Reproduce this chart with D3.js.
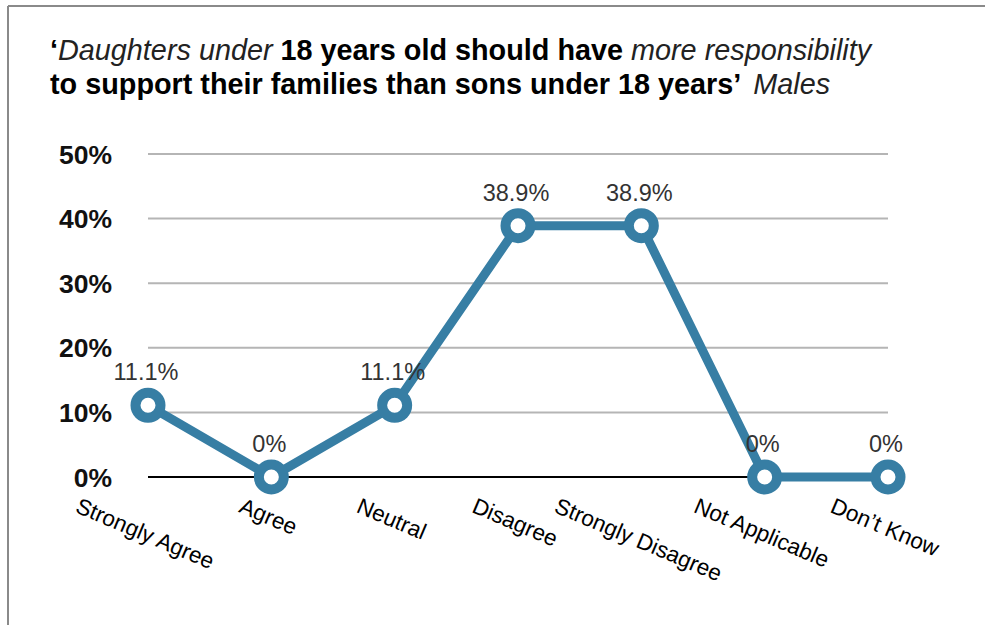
<!DOCTYPE html>
<html>
<head>
<meta charset="utf-8">
<script src="https://cdn.jsdelivr.net/npm/d3@7/dist/d3.min.js"></script>
<style>
  html, body { margin: 0; padding: 0; background: #fff; }
  svg { display: block; }
  text { font-family: "Liberation Sans", Arial, Helvetica, sans-serif; }
</style>
</head>
<body>
<svg id="chart" width="985" height="625"></svg>
<script>
// ---- data ----
const categories = ["Strongly Agree", "Agree", "Neutral", "Disagree", "Strongly Disagree", "Not Applicable", "Don\u2019t Know"];
const values = [11.1, 0, 11.1, 38.9, 38.9, 0, 0];
const valueLabels = ["11.1%", "0%", "11.1%", "38.9%", "38.9%", "0%", "0%"];
const yTicks = [0, 10, 20, 30, 40, 50];
const yTickLabels = ["0%", "10%", "20%", "30%", "40%", "50%"];
const titleLine1 = [
  {t: "\u2018", italic: false},
  {t: "Daughters under", italic: true},
  {t: " 18 years old should have ", italic: false},
  {t: "more responsibility", italic: true}
];
const titleLine2 = [
  {t: "to support their families than sons under 18 years\u2019", italic: false},
  {t: "Males", italic: true, gap: 12}
];

// ---- layout ----
const svg = d3.select("#chart");
const color = "#377ea4";

// frame
svg.append("line").attr("x1", 8).attr("x2", 985).attr("y1", 6).attr("y2", 6)
  .attr("stroke", "#8a8a8a").attr("stroke-width", 2);
svg.append("line").attr("x1", 8).attr("x2", 8).attr("y1", 6).attr("y2", 625)
  .attr("stroke", "#8a8a8a").attr("stroke-width", 2);

const x = d3.scalePoint().domain(categories).range([148, 888]).padding(0);
const y = d3.scaleLinear().domain([0, 50]).range([477, 154]);

// title
function titleLine(parts, yy) {
  const t = svg.append("text").attr("x", 50).attr("y", yy).attr("font-size", 28.8);
  parts.forEach(p => {
    const s = t.append("tspan").text(p.t)
      .attr("font-style", p.italic ? "italic" : "normal")
      .attr("font-weight", p.italic ? 400 : 700)
      .attr("fill", p.italic ? "#222" : "#000");
    if (p.gap) s.attr("dx", p.gap);
  });
  return t;
}
titleLine(titleLine1, 60);
titleLine(titleLine2, 94);

// gridlines
const grid = svg.append("g");
grid.selectAll("line").data(yTicks).join("line")
  .attr("x1", 148).attr("x2", 888)
  .attr("y1", d => y(d)).attr("y2", d => y(d))
  .attr("stroke", d => d === 0 ? "#000" : "#b5b5b5")
  .attr("stroke-width", 2);

// y axis labels
svg.append("g").selectAll("text").data(yTicks).join("text")
  .attr("x", 112).attr("y", d => y(d) + 9.5)
  .attr("text-anchor", "end")
  .attr("font-size", 26.5).attr("font-weight", 700)
  .attr("fill", "#111")
  .text((d, i) => yTickLabels[i]);

// line
const lineGen = d3.line().x((d, i) => x(categories[i])).y(d => y(d));
svg.append("path").datum(values)
  .attr("d", lineGen)
  .attr("fill", "none").attr("stroke", color)
  .attr("stroke-width", 9).attr("stroke-linejoin", "round");

// markers
svg.append("g").selectAll("circle").data(values).join("circle")
  .attr("cx", (d, i) => x(categories[i])).attr("cy", d => y(d))
  .attr("r", 12.5)
  .attr("fill", "#fff").attr("stroke", color).attr("stroke-width", 10);

// value labels
svg.append("g").selectAll("text").data(values).join("text")
  .attr("x", (d, i) => x(categories[i]) - 2)
  .attr("y", d => y(d) - 25)
  .attr("text-anchor", "middle")
  .attr("font-size", 23.5)
  .attr("fill", "#333")
  .text((d, i) => valueLabels[i]);

// category labels (rotated, top aligned, centered on tick)
const angle = 23;
const rad = angle * Math.PI / 180;
const fs = 22.5;
const catG = svg.append("g");
categories.forEach(c => {
  const t = catG.append("text")
    .attr("text-anchor", "middle")
    .attr("dominant-baseline", "central")
    .attr("font-size", fs)
    .attr("fill", "#000")
    .text(c);
  const w = t.node().getComputedTextLength();
  const h = fs * 0.85;
  const cy = 496 + (w * Math.sin(rad) + h * Math.cos(rad)) / 2;
  t.attr("transform", `translate(${x(c) - 3},${cy}) rotate(${angle})`);
});
</script>
</body>
</html>
